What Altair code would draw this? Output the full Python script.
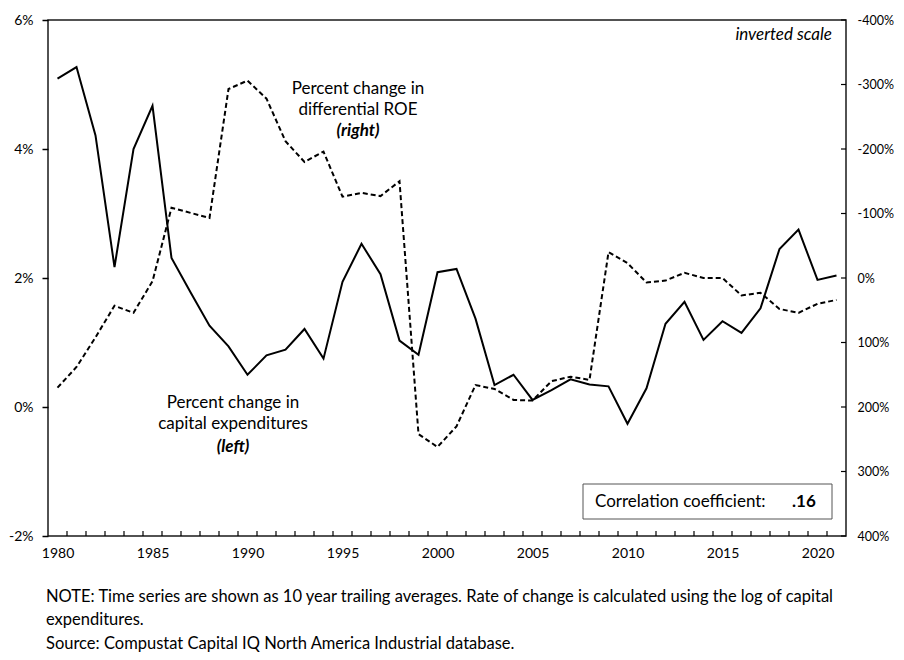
import altair as alt
import pandas as pd

years = list(range(1980, 2022))
capex = [5.09, 5.27, 4.21, 2.17, 4.00, 4.67, 2.31, 1.78, 1.26, 0.94,
         0.50, 0.80, 0.89, 1.21, 0.75, 1.94, 2.53, 2.06, 1.03, 0.81,
         2.09, 2.14, 1.37, 0.34, 0.50, 0.11, 0.26, 0.43, 0.35, 0.32,
         -0.26, 0.29, 1.29, 1.63, 1.04, 1.33, 1.15, 1.53, 2.45, 2.75,
         1.97, 2.04]
roe = [170, 138, 92, 43, 54, 5, -109, -101, -93, -293,
       -306, -278, -212, -180, -196, -126, -132, -127, -150, 242,
       262, 230, 166, 172, 189, 190, 160, 153, 158, -40,
       -23, 7, 4, -8, 0, 0, 27, 23, 48, 54,
       40, 34]
year_labels = [1980, 1985, 1990, 1995, 2000, 2005, 2010, 2015, 2020]
left_ticks = [-2, 0, 2, 4, 6]
right_ticks = [-400, -300, -200, -100, 0, 100, 200, 300, 400]
year_boundaries = [y + 0.5 for y in range(1980, 2021)]

FONT = "Lato"
W, H = 798, 516

df = pd.DataFrame({"year": years, "capex": capex, "roe": roe})
xscale = alt.Scale(domain=[1979.5, 2021.5], nice=False, zero=False)
left_scale = alt.Scale(domain=[-2, 6], nice=False, zero=False)
right_scale = alt.Scale(domain=[-400, 400], nice=False, zero=False, reverse=True)

x_axis = alt.Axis(values=year_labels, format="d", ticks=False, domain=False,
                  grid=False, title=None, labelFontSize=14, labelPadding=10,
                  labelFont=FONT, labelColor="black")

def xenc(field):
    return alt.X(field, scale=xscale, axis=x_axis)

capex_line = alt.Chart(df).mark_line(color="black", strokeWidth=2).encode(
    x=xenc("year:Q"),
    y=alt.Y("capex:Q", scale=left_scale,
            axis=alt.Axis(values=left_ticks, labelExpr="datum.value + '%'", title=None,
                          grid=False, domain=False, tickSize=6, tickColor="black",
                          tickWidth=1.5, labelPadding=9, labelFontSize=14,
                          labelFont=FONT, labelColor="black")),
)

roe_line = alt.Chart(df).mark_line(color="black", strokeWidth=2, strokeDash=[5, 3]).encode(
    x=xenc("year:Q"),
    y=alt.Y("roe:Q", scale=right_scale,
            axis=alt.Axis(orient="right", values=right_ticks, labelExpr="datum.value + '%'",
                          title=None, grid=False, domain=False, ticks=False,
                          labelPadding=11, labelFontSize=12.5, labelFont=FONT,
                          labelColor="black")),
)

xticks = alt.Chart(pd.DataFrame({"year": year_boundaries})).mark_rule(
    color="black", strokeWidth=1.2).encode(
    x=xenc("year:Q"),
    y=alt.value(H - 5), y2=alt.value(H),
)

rticks = alt.Chart(pd.DataFrame({"v": right_ticks})).mark_rule(
    color="black", strokeWidth=1.2).encode(
    y=alt.Y("v:Q", scale=right_scale, axis=None),
    x=alt.value(W - 5), x2=alt.value(W),
)

one = pd.DataFrame({"a": [0]})

def txt(text, x, y, size=17, align="center", style="normal", weight="normal", baseline="middle"):
    return alt.Chart(one).mark_text(
        font=FONT, fontSize=size, align=align, baseline=baseline, fontStyle=style,
        fontWeight=weight, color="black", lineHeight=21,
    ).encode(x=alt.value(x), y=alt.value(y), text=alt.value(text))

ann_roe = txt(["Percent change in", "differential ROE"], 310, 69)
ann_roe_r = txt("(right)", 310, 111, style="italic", weight="bold")
ann_cap = txt(["Percent change in", "capital expenditures"], 185, 383)
ann_cap_l = txt("(left)", 185, 427, style="italic", weight="bold")
inv = txt("inverted scale", 784, 15, size=17, align="right", style="italic")

box = alt.Chart(one).mark_rect(fill="white", stroke="#555555", strokeWidth=1).encode(
    x=alt.value(535), x2=alt.value(784), y=alt.value(464), y2=alt.value(499))
corr = txt("Correlation coefficient:", 547, 482, align="left")
corr_v = txt(".16", 744, 482, align="left", weight="bold")

note1 = txt("NOTE: Time series are shown as 10 year trailing averages. Rate of change is calculated using the log of capital",
            -2, 577, size=16.5, align="left")
note2 = txt("expenditures.", -2, 600, size=16.5, align="left")
src = txt("Source: Compustat Capital IQ North America Industrial database.", -2, 624, size=16.5, align="left")

chart = alt.layer(
    box, capex_line, roe_line, xticks, rticks,
    ann_roe, ann_roe_r, ann_cap, ann_cap_l, inv, corr, corr_v, note1, note2, src,
).resolve_scale(y="independent").properties(
    width=W, height=H,
    padding={"left": 40, "top": 12, "right": 50, "bottom": 116},
    autosize=alt.AutoSizeParams(type="none"),
    background="white",
).configure_view(stroke="#1a1a1a", strokeWidth=1.5)

chart.save("out.html", embed_options={"renderer": "svg", "actions": False})
